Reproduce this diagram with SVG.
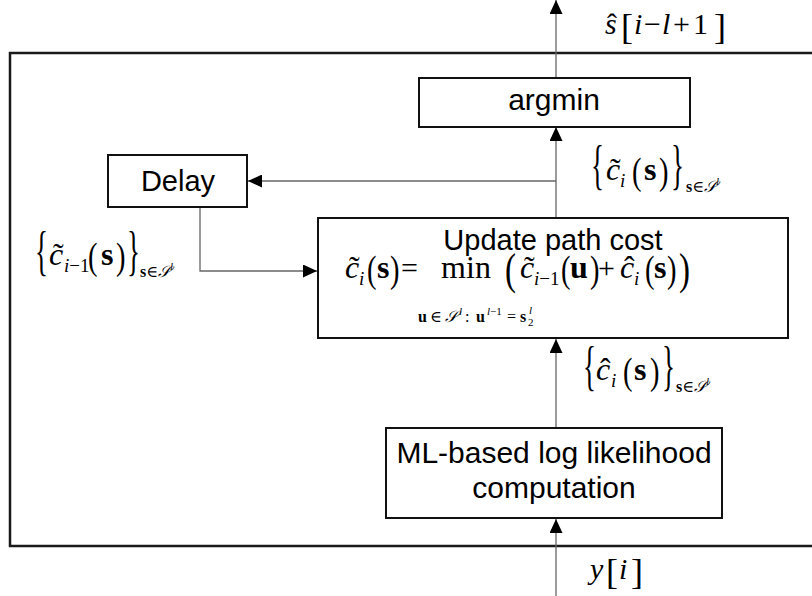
<svg xmlns="http://www.w3.org/2000/svg" width="812" height="596" viewBox="0 0 812 596">
<style>
.box{fill:#fff;stroke:#111;stroke-width:2}
.frame{fill:none;stroke:#1a1a1a;stroke-width:2.5}
.conn{fill:none;stroke:#666;stroke-width:1.3}
.sans{font-family:"Liberation Sans",Arial,sans-serif;fill:#000;text-anchor:middle}
.m text{font-family:"Liberation Serif","Times New Roman","DejaVu Serif",serif;fill:#000}
.it{font-style:italic}
.bf{font-weight:bold}
.br{font-size:54px}
.pa{font-size:38px}
.big{font-size:44px}
</style>
<defs>
<marker id="ah" viewBox="0 0 14 13" refX="14" refY="6.5" markerWidth="14" markerHeight="13" markerUnits="userSpaceOnUse" orient="auto">
<path d="M0,0 L14,6.5 L0,13 z" fill="#000"/>
</marker>
</defs>
<rect width="812" height="596" fill="#fff"/>
<path class="frame" d="M812,53 H10 V546 H812"/>

<g id="connectors">
<line class="conn" x1="556" y1="78" x2="556" y2="0" marker-end="url(#ah)"/>
<line class="conn" x1="556" y1="218" x2="556" y2="127" marker-end="url(#ah)"/>
<line class="conn" x1="556" y1="181" x2="248" y2="181" marker-end="url(#ah)"/>
<polyline class="conn" points="200,207 200,271 317,271" marker-end="url(#ah)"/>
<line class="conn" x1="556" y1="428" x2="556" y2="339" marker-end="url(#ah)"/>
<line class="conn" x1="556" y1="596" x2="556" y2="519" marker-end="url(#ah)"/>
</g>

<g id="argmin">
<rect class="box" x="419" y="78" width="271" height="49"/>
<text class="sans" x="554" y="110" font-size="30">argmin</text>
</g>

<g id="delay">
<rect class="box" x="108" y="155" width="139" height="52"/>
<text class="sans" x="178" y="191" font-size="29">Delay</text>
</g>

<g id="update">
<rect class="box" x="318" y="218" width="470" height="120"/>
<text class="sans" x="553" y="250" font-size="29">Update path cost</text>
<g class="m">
<text x="345" y="278" font-size="32" class="it">c</text>
<text x="349" y="278" font-size="32">˜</text>
<text x="359" y="285" font-size="19" class="it">i</text>
<text transform="translate(367,282) scale(0.75,1)" class="pa">(</text>
<text x="377" y="278" font-size="32" class="bf">s</text>
<text transform="translate(390,282) scale(0.75,1)" class="pa">)</text>
<text x="401" y="278" font-size="30">=</text>
<text x="466" y="278" font-size="32" text-anchor="middle">min</text>
<text x="418" y="322" font-size="16" class="bf">u</text>
<text x="430" y="322" font-size="16">∈</text>
<text x="445" y="322" font-size="16" class="it">𝒮</text>
<text x="459" y="315" font-size="11" class="it">l</text>
<text x="465" y="322" font-size="16">:</text>
<text x="476" y="322" font-size="16" class="bf">u</text>
<text x="487" y="315" font-size="11"><tspan class="it">l</tspan>−1</text>
<text x="507" y="322" font-size="16">=</text>
<text x="520" y="322" font-size="16" class="bf">s</text>
<text x="528" y="326" font-size="11">2</text>
<text x="529" y="314" font-size="11" class="it">l</text>
<text transform="translate(505,284) scale(0.75,1)" class="big">(</text>
<text x="520" y="278" font-size="32" class="it">c</text>
<text x="524" y="278" font-size="32">˜</text>
<text x="534" y="285" font-size="19"><tspan class="it">i</tspan>−1</text>
<text transform="translate(561,282) scale(0.75,1)" class="pa">(</text>
<text x="570" y="278" font-size="32" class="bf">u</text>
<text transform="translate(590,282) scale(0.75,1)" class="pa">)</text>
<text x="598" y="278" font-size="30">+</text>
<text x="620" y="278" font-size="32" class="it">c</text>
<text x="624" y="278" font-size="32">ˆ</text>
<text x="634" y="285" font-size="19" class="it">i</text>
<text transform="translate(645,282) scale(0.75,1)" class="pa">(</text>
<text x="654" y="278" font-size="32" class="bf">s</text>
<text transform="translate(667,282) scale(0.75,1)" class="pa">)</text>
<text transform="translate(679,284) scale(0.75,1)" class="big">)</text>
</g>
</g>

<g id="ml">
<rect class="box" x="386" y="428" width="336" height="90"/>
<text class="sans" x="554" y="463" font-size="30">ML-based log likelihood</text>
<text class="sans" x="554" y="498" font-size="30">computation</text>
</g>

<g id="label-out" class="m">
<text x="605" y="34" font-size="30" class="it">s</text>
<text x="607" y="34" font-size="30">ˆ</text>
<text x="621" y="39" font-size="36">[</text>
<text x="634" y="34" font-size="30" class="it">i</text>
<text x="644" y="34" font-size="30">−</text>
<text x="662" y="34" font-size="30" class="it">l</text>
<text x="673" y="34" font-size="30">+</text>
<text x="693" y="34" font-size="30">1</text>
<text x="714" y="39" font-size="36">]</text>
</g>

<g id="label-ctilde" class="m">
<text transform="translate(591,183) scale(0.5,1)" class="br">{</text>
<text x="606" y="180" font-size="32" class="it">c</text>
<text x="610" y="180" font-size="32">˜</text>
<text x="620" y="187" font-size="19" class="it">i</text>
<text transform="translate(632,184) scale(0.75,1)" class="pa">(</text>
<text x="644" y="180" font-size="32" class="bf">s</text>
<text transform="translate(659,184) scale(0.75,1)" class="pa">)</text>
<text transform="translate(671,183) scale(0.5,1)" class="br">}</text>
<text x="686" y="192" font-size="16"><tspan class="bf">s</tspan>∈<tspan class="it">𝒮</tspan><tspan font-size="11" dy="-7" class="it">l</tspan></text>
</g>

<g id="label-prev" class="m">
<text transform="translate(35,269) scale(0.5,1)" class="br">{</text>
<text x="49" y="265" font-size="32" class="it">c</text>
<text x="53" y="265" font-size="32">˜</text>
<text x="64" y="272" font-size="19"><tspan class="it">i</tspan>−1</text>
<text transform="translate(88,269) scale(0.75,1)" class="pa">(</text>
<text x="101" y="265" font-size="32" class="bf">s</text>
<text transform="translate(116,269) scale(0.75,1)" class="pa">)</text>
<text transform="translate(127,269) scale(0.5,1)" class="br">}</text>
<text x="140" y="277" font-size="16"><tspan class="bf">s</tspan>∈<tspan class="it">𝒮</tspan><tspan font-size="11" dy="-7" class="it">l</tspan></text>
</g>

<g id="label-chat" class="m">
<text transform="translate(583,384) scale(0.5,1)" class="br">{</text>
<text x="596" y="380" font-size="32" class="it">c</text>
<text x="600" y="380" font-size="32">ˆ</text>
<text x="611" y="387" font-size="19" class="it">i</text>
<text transform="translate(623,384) scale(0.75,1)" class="pa">(</text>
<text x="634" y="380" font-size="32" class="bf">s</text>
<text transform="translate(650,384) scale(0.75,1)" class="pa">)</text>
<text transform="translate(662,384) scale(0.5,1)" class="br">}</text>
<text x="676" y="392" font-size="16"><tspan class="bf">s</tspan>∈<tspan class="it">𝒮</tspan><tspan font-size="11" dy="-7" class="it">l</tspan></text>
</g>

<g id="label-in" class="m">
<text x="590" y="579" font-size="30" class="it">y</text>
<text x="606" y="584" font-size="36">[</text>
<text x="619" y="579" font-size="30" class="it">i</text>
<text x="631" y="584" font-size="36">]</text>
</g>
</svg>
